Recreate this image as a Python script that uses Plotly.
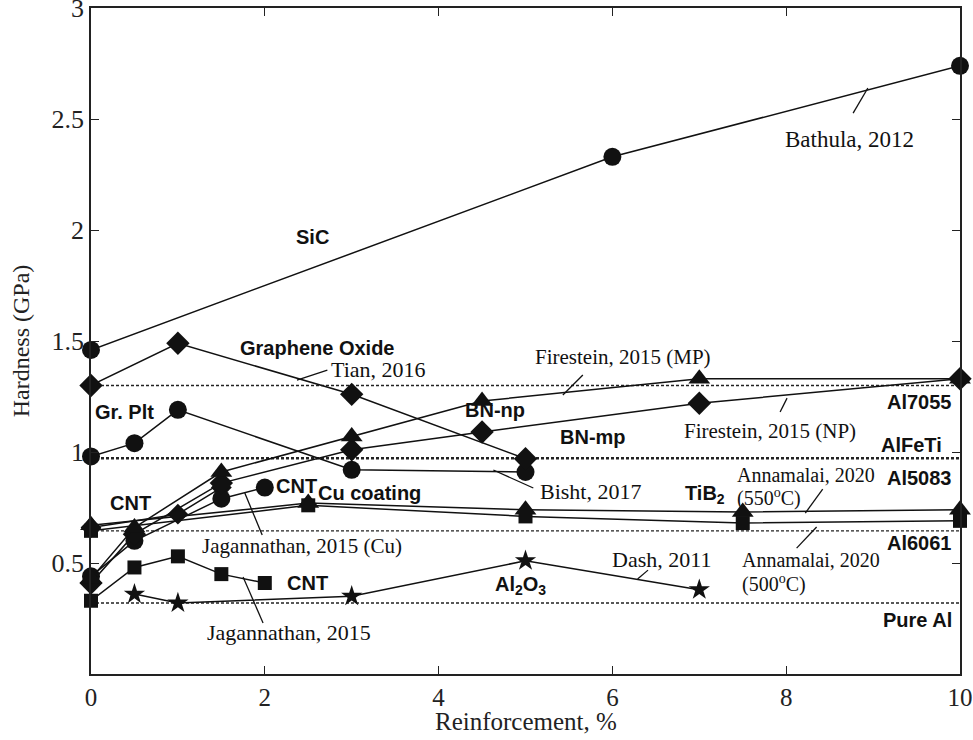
import plotly.graph_objects as go

# ---------------- data ----------------
sic_x = [0, 6, 10]
sic_y = [1.46, 2.33, 2.74]

go_x = [0, 1, 3, 5]
go_y = [1.30, 1.49, 1.26, 0.97]

grplt_x = [0, 0.5, 1, 3, 5]
grplt_y = [0.98, 1.04, 1.19, 0.92, 0.91]

bnnp_x = [0, 0.5, 1.5, 3, 4.5, 7, 10]
bnnp_y = [0.43, 0.66, 0.91, 1.07, 1.23, 1.33, 1.33]

bnmp_x = [0, 0.5, 1.5, 3, 4.5, 7, 10]
bnmp_y = [0.41, 0.63, 0.86, 1.01, 1.09, 1.22, 1.33]

cnt_top_x = [0, 1, 1.5]
cnt_top_y = [0.66, 0.72, 0.84]

cncu_x = [0, 0.5, 1.5, 2]
cncu_y = [0.44, 0.60, 0.79, 0.84]

cnt_x = [0, 0.5, 1, 1.5, 2]
cnt_y = [0.33, 0.48, 0.53, 0.45, 0.41]

al2o3_x = [0.5, 1, 3, 5, 7]
al2o3_y = [0.36, 0.32, 0.35, 0.51, 0.38]

tib550_x = [0, 2.5, 5, 7.5, 10]
tib550_y = [0.67, 0.77, 0.74, 0.73, 0.74]

tib500_x = [0, 2.5, 5, 7.5, 10]
tib500_y = [0.645, 0.76, 0.71, 0.68, 0.69]

ref_names = ["Al7055", "AlFeTi", "Al5083", "Al6061", "Pure Al"]
ref_vals = [1.30, 0.975, 0.97, 0.645, 0.32]

x_ticks = [0, 2, 4, 6, 8, 10]
y_ticks = [0.5, 1, 1.5, 2, 2.5, 3]
y_tick_text = ["0.5", "1", "1.5", "2", "2.5", "3"]

SERIF = "Liberation Serif"
SANS = "Liberation Sans"

fig = go.Figure()

# reference dashed lines
for v in ref_vals:
    fig.add_trace(go.Scatter(x=[0, 10], y=[v, v], mode="lines",
                             line=dict(color="#222", width=1.4, dash="3px,2px"),
                             hoverinfo="skip", showlegend=False))

def series(x, y, sym, size):
    fig.add_trace(go.Scatter(x=x, y=y, mode="lines+markers",
                             line=dict(color="#111", width=1.5),
                             marker=dict(symbol=sym, size=size, color="#111",
                                         line=dict(width=0)),
                             cliponaxis=False, showlegend=False))

series(tib550_x, tib550_y, "triangle-up", 19)
series(tib500_x, tib500_y, "square", 14)
series(cnt_top_x, cnt_top_y, "diamond", 16)
series(cncu_x, cncu_y, "circle", 18)
series(bnmp_x, bnmp_y, "diamond", 18)
series(bnnp_x, bnnp_y, "triangle-up", 19)
series(cnt_x, cnt_y, "square", 14)
series(al2o3_x, al2o3_y, "star", 16)
series(grplt_x, grplt_y, "circle", 18)
series(go_x, go_y, "diamond", 18)
series(sic_x, sic_y, "circle", 18)

ann = []

def bold(text, x, y, xanchor="center"):
    ann.append(dict(x=x, y=y, text="<b>" + text + "</b>", showarrow=False,
                    xanchor=xanchor, yanchor="middle",
                    font=dict(family=SANS, size=20, color="#111")))

def serif(text, x, y, xanchor="center", size=22):
    ann.append(dict(x=x, y=y, text=text, showarrow=False,
                    xanchor=xanchor, yanchor="middle",
                    font=dict(family=SERIF, size=size, color="#111")))

bold("SiC", 2.55, 1.97)
bold("Graphene Oxide", 2.61, 1.47)
bold("Gr. Plt", 0.38, 1.18)
bold("BN-np", 4.65, 1.19)
bold("BN-mp", 5.78, 1.07)
bold("CNT", 0.46, 0.77)
bold("CNT", 2.37, 0.845)
bold("Cu coating", 3.21, 0.815)
bold("TiB<sub>2</sub>", 7.07, 0.81)
bold("Al<sub>2</sub>O<sub>3</sub>", 4.94, 0.40)
bold("CNT", 2.49, 0.41)
bold("Al7055", 9.93, 1.225, "right")
bold("AlFeTi", 9.82, 1.03, "right")
bold("Al5083", 9.93, 0.885, "right")
bold("Al6061", 9.93, 0.59, "right")
bold("Pure Al", 9.93, 0.245, "right")

serif("Bathula, 2012", 8.73, 2.41, size=23)
serif("Tian, 2016", 3.31, 1.37)
serif("Firestein, 2015 (MP)", 6.12, 1.428, size=21)
serif("Firestein, 2015 (NP)", 7.81, 1.095, size=21)
serif("Bisht, 2017", 5.75, 0.82)
serif("Jagannathan, 2015 (Cu)", 2.43, 0.577, size=21)
serif("Jagannathan, 2015", 2.28, 0.185)
serif("Dash, 2011", 6.56, 0.514)
serif("Annamalai, 2020", 7.41, 0.896, "left", size=20)
serif("(550<sup>o</sup>C)", 7.41, 0.797, "left", size=20)
serif("Annamalai, 2020", 7.47, 0.515, "left", size=20)
serif("(500<sup>o</sup>C)", 7.47, 0.41, "left", size=20)

# x-axis title placed as paper annotation
ann.append(dict(xref="paper", yref="paper", x=0.5, y=-0.071, text="Reinforcement, %",
                showarrow=False, xanchor="center", yanchor="middle",
                font=dict(family=SERIF, size=25, color="#222")))

# leader lines: (x0, y0, x1, y1)
leaders = [
    (8.77, 2.527, 8.94, 2.64),
    (2.37, 1.324, 2.72, 1.369),
    (5.43, 1.257, 5.66, 1.347),
    (7.93, 1.18, 8.01, 1.243),
    (4.63, 0.919, 5.09, 0.838),
    (1.77, 0.815, 1.97, 0.626),
    (1.75, 0.437, 1.98, 0.23),
    (6.29, 0.428, 6.41, 0.468),
    (8.22, 0.725, 8.42, 0.833),
    (8.12, 0.567, 8.35, 0.662),
]
shapes = []
for x0, y0, x1, y1 in leaders:
    shapes.append(dict(type="line", xref="x", yref="y", x0=x0, y0=y0, x1=x1, y1=y1,
                       line=dict(color="#111", width=1.3)))

fig.update_layout(
    width=973, height=740,
    margin=dict(l=91, r=13, t=8, b=66, autoexpand=False),
    paper_bgcolor="white", plot_bgcolor="white",
    annotations=ann, shapes=shapes,
    xaxis=dict(range=[0, 10], tickvals=x_ticks, ticks="inside", ticklen=8,
               tickwidth=1.3, tickcolor="#222", showline=True, linecolor="#222",
               linewidth=1.5, mirror="ticks", showgrid=False, zeroline=False,
               automargin=False, ticklabeloverflow="allow",
               tickfont=dict(family=SERIF, size=25, color="#222")),
    yaxis=dict(range=[0, 3.0005], tickvals=y_ticks, ticktext=y_tick_text,
               ticks="inside", ticklen=8, tickwidth=1.3, tickcolor="#222",
               showline=True, linecolor="#222", linewidth=1.5, mirror="ticks",
               showgrid=False, zeroline=False, automargin=False,
               ticklabeloverflow="allow",
               tickfont=dict(family=SERIF, size=26, color="#222"),
               title=dict(text="Hardness (GPa)",
                          font=dict(family=SERIF, size=24, color="#222"))),
)

fig.write_html("out.html")
